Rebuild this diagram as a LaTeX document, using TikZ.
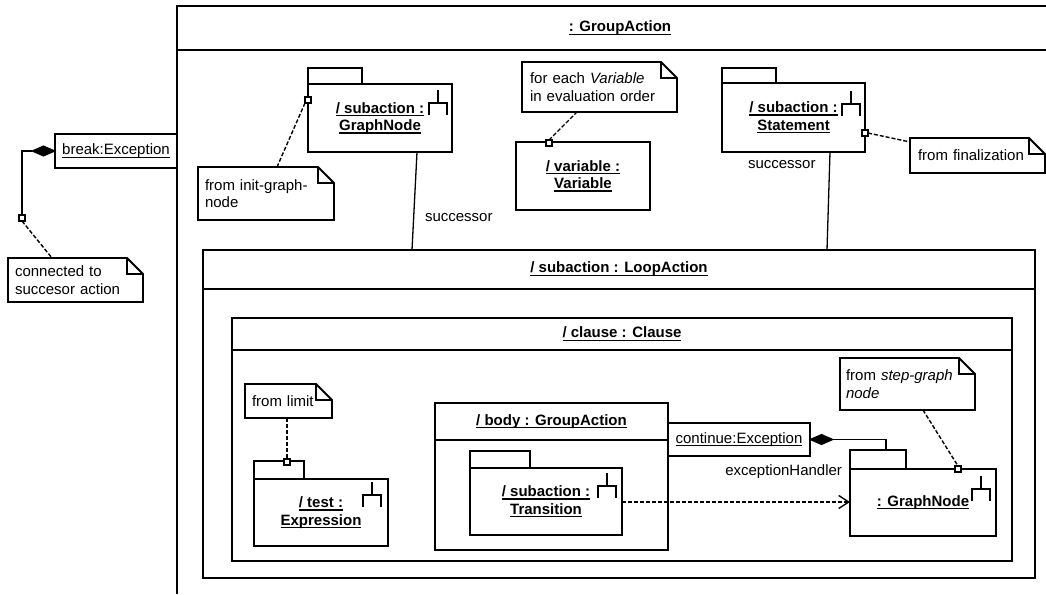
\documentclass[tikz,border=0pt]{standalone}
\usepackage{fontspec}
\setmainfont{Liberation Sans}
\usetikzlibrary{arrows.meta,calc}
\newcommand\uln[1]{\setbox0\hbox{#1}\rlap{\rule[-3pt]{\wd0}{1.3pt}}\box0}
\newcommand\notedraw[1]{%
  \draw[noteline] (#1.north west) -- ([xshift=-16pt]#1.north east) -- ([yshift=-16pt]#1.north east) -- (#1.south east) -- (#1.south west) -- cycle;
  \draw[noteline] ([xshift=-16pt]#1.north east) |- ([yshift=-16pt]#1.north east);}
% #1 node, #2 right inset, #3 top inset
\newcommand\compicon[3]{%
  \draw[icon] ([xshift={-(#2+9)*1pt},yshift={-#3*1pt}]#1.north east) -- ([xshift={-(#2+9)*1pt},yshift={-(#3+13)*1pt}]#1.north east);
  \draw[icon] ([xshift={-(#2+18)*1pt},yshift={-(#3+25)*1pt}]#1.north east) |- ([xshift={-#2*1pt},yshift={-(#3+13)*1pt}]#1.north east) -- ([xshift={-#2*1pt},yshift={-(#3+25)*1pt}]#1.north east);}
\begin{document}
\begin{tikzpicture}[x=1pt,y=-1pt,
  every node/.style={font=\fontsize{15}{17.5}\selectfont, inner sep=0pt, outer sep=0pt},
  box/.style={draw, line width=1.9pt, rectangle, anchor=north west},
  tab/.style={draw, line width=1.9pt, rectangle, anchor=south west},
  frameline/.style={line width=1.9pt},
  conn/.style={line width=1.3pt},
  dconn/.style={line width=1.4pt, dash pattern=on 4pt off 2pt},
  port/.style={draw, fill=white, line width=1.3pt, minimum size=6pt},
  noteline/.style={line width=1.9pt},
  notebox/.style={anchor=north west, align=left, inner xsep=7pt},
  icon/.style={line width=1.6pt},
  compo/.style={fill=black, line width=1pt},
]
\useasboundingbox (0,0) rectangle (1046,594);

% outer frame : GroupAction
\draw[frameline] (177,594) -- (177,6) -- (1046,6);
\draw[frameline] (177,50) -- (1046,50);
\node (gah) at (620,28) {\uln{\textbf{: GroupAction}}};

% break exception
\node[box, minimum width=122pt, minimum height=34pt] (brk) at (55,134) {\uln{break:Exception}};
\draw[compo] (brk.west) -- ++(-11.5,-5) -- ++(-11.5,5) -- ++(11.5,5) -- cycle;
\coordinate (d1) at ([xshift=-23pt]brk.west);
\node[port] (p0) at (22,218) {};
\draw[conn] (d1) -| (p0.north);
\node[notebox, text width=121pt, minimum height=44pt] (n0) at (8,258) {connected to\\succesor action};
\notedraw{n0}
\draw[dconn] (p0.south) -- ([xshift=44pt]n0.north west);

% subaction GraphNode (top)
\node[box, minimum width=144pt, minimum height=68pt] (gn1) at (308,84) {};
\node[tab, minimum width=54pt, minimum height=16pt] (gn1tab) at (gn1.north west) {};
\node[align=center] (gn1t) at (gn1.center) {\uln{\textbf{/ subaction :}}\\\uln{\textbf{GraphNode}}};
\compicon{gn1}{5}{6}
\node[notebox, text width=122pt, minimum height=53pt] (n1) at (198,167) {from init-graph-\\node};
\notedraw{n1}
\node[port] (p1) at (308,100) {};
\draw[dconn] (p1.south west) -- ([xshift=79pt]n1.north west);

% variable
\node[notebox, inner xsep=8pt, text width=139pt, minimum height=50pt] (n2) at (522,62) {for each \textit{Variable}\\in evaluation order};
\notedraw{n2}
\node[box, minimum width=134pt, minimum height=68pt, align=center] (var) at (516,142) {\uln{\textbf{/ variable :}}\\\uln{\textbf{Variable}}};
\node[port] (p2) at (549,143) {};
\draw[dconn] (p2.north) -- ([xshift=55pt]n2.south west);

% subaction Statement
\node[box, minimum width=143pt, minimum height=69pt] (st) at (722,83) {};
\node[tab, minimum width=54pt, minimum height=15pt] (sttab) at (st.north west) {};
\node[align=center] (stt) at (st.center) {\uln{\textbf{/ subaction :}}\\\uln{\textbf{Statement}}};
\compicon{st}{5}{8}
\node[notebox, inner xsep=8pt, text width=119pt, minimum height=35pt] (n3) at (910,138) {from finalization};
\notedraw{n3}
\node[port] (p3) at (865,133) {};
\draw[dconn] (p3.east) -- ([yshift=-4pt]n3.north west);

% LoopAction
\node[box, minimum width=832pt, minimum height=328pt] (loop) at (203,250) {};
\draw[frameline] ($(loop.north west)+(0,39)$) -- ($(loop.north east)+(0,39)$);
\node (looph) at (619,269) {\uln{\textbf{/ subaction : LoopAction}}};

% successor links
\draw[conn] ([xshift=37pt]gn1.south) -- ([xshift=209pt]loop.north west);
\node[anchor=west] (suc1) at (425,218) {successor};
\draw[conn] ([xshift=36.5pt]st.south) -- ([xshift=624pt]loop.north west);
\node[anchor=west] (suc2) at (748,165) {successor};

% Clause
\node[box, minimum width=780pt, minimum height=243pt] (cl) at (232,318) {};
\draw[frameline] ($(cl.north west)+(0,32)$) -- ($(cl.north east)+(0,32)$);
\node (clh) at (622,334) {\uln{\textbf{/ clause : Clause}}};

% test : Expression
\node[notebox, text width=73pt, minimum height=34pt] (n4) at (245,384) {from limit};
\notedraw{n4}
\node[box, minimum width=134pt, minimum height=67pt] (ex) at (254,479) {};
\node[tab, minimum width=50pt, minimum height=18pt] (extab) at (ex.north west) {};
\node[align=center] (ext) at (ex.center) {\uln{\textbf{/ test :}}\\\uln{\textbf{Expression}}};
\compicon{ex}{7}{3}
\node[port] (p4) at (287,462) {};
\draw[dconn] ([xshift=42pt]n4.south west) -- (p4.north);

% body : GroupAction
\node[box, minimum width=233pt, minimum height=147pt] (body) at (435,403) {};
\draw[frameline] ($(body.north west)+(0,37)$) -- ($(body.north east)+(0,37)$);
\node (bodyh) at (551.5,421.5) {\uln{\textbf{/ body : GroupAction}}};
\node[box, minimum width=152pt, minimum height=67pt] (tr) at (470,468) {};
\node[tab, minimum width=60pt, minimum height=17pt] (trtab) at (tr.north west) {};
\node[align=center] (trt) at (tr.center) {\uln{\textbf{/ subaction :}}\\\uln{\textbf{Transition}}};
\compicon{tr}{6}{5}

% continue exception
\node[box, minimum width=142pt, minimum height=33pt] (cont) at (668,423) {\uln{continue:Exception}};
\draw[compo] (cont.east) -- ++(11.5,-5) -- ++(11.5,5) -- ++(-11.5,5) -- cycle;
\coordinate (d2) at ([xshift=23pt]cont.east);

% : GraphNode (bottom)
\node[box, minimum width=146pt, minimum height=67pt] (gn2) at (850,469) {\uln{\textbf{: GraphNode}}};
\node[tab, minimum width=56pt, minimum height=19pt] (gn2tab) at (gn2.north west) {};
\compicon{gn2}{6}{7}
\draw[conn] (d2) -| ([xshift=36pt]gn2tab.north west);
\node[anchor=east] (exh) at (842,472) {exceptionHandler};
\node[notebox, inner xsep=6pt, text width=123pt, minimum height=52pt] (n5) at (840,358) {from \textit{step-graph}\\\textit{node}};
\notedraw{n5}
\node[port] (p5) at (958,469) {};
\draw[dconn] ([xshift=83pt]n5.south west) -- (p5.north);

% transition arrow
\draw[dconn, -{Straight Barb[length=10pt,width=13pt]}] (tr.east |- 0,502) -- (gn2.west |- 0,502);
\end{tikzpicture}
\end{document}
